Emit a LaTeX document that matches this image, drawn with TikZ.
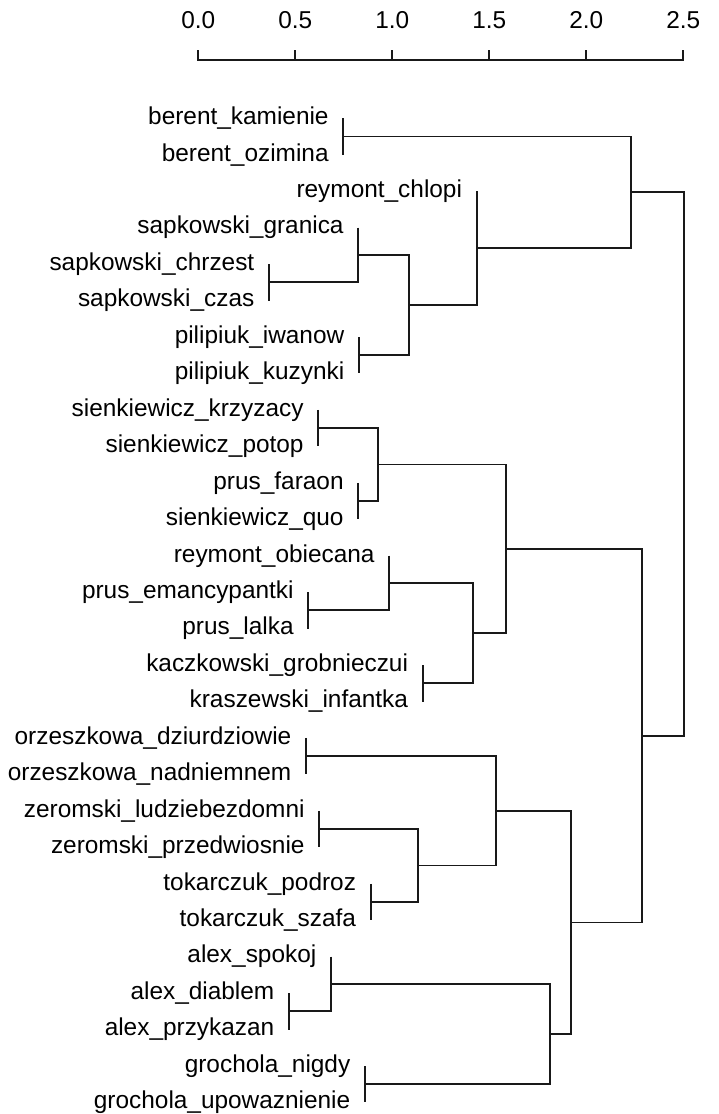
\documentclass[tikz,border=0pt]{standalone}
\usepackage{fontspec}
\setmainfont{Liberation Sans}
\begin{document}
\begin{tikzpicture}[x=1pt,y=-1pt,
  link/.style={line width=1.8pt, draw=black!90},
  leaf/.style={anchor=east, inner sep=0pt, text height=18pt, text depth=5.4pt, font=\fontsize{24.4}{29}\selectfont},
  ticklab/.style={anchor=base, inner sep=0pt, font=\fontsize{24.4}{29}\selectfont}]
\useasboundingbox (0,0) rectangle (719,1114);

% ---------- axis ----------
\coordinate (ax0) at (198.3,60);
\coordinate (ax1) at (295.3,60);
\coordinate (ax2) at (392.3,60);
\coordinate (ax3) at (489.3,60);
\coordinate (ax4) at (586.3,60);
\coordinate (ax5) at (683.3,60);
\coordinate (tk0) at (198.3,50);
\coordinate (tk1) at (295.3,50);
\coordinate (tk2) at (392.3,50);
\coordinate (tk3) at (489.3,50);
\coordinate (tk4) at (586.3,50);
\coordinate (tk5) at (683.3,50);
\draw[link] (tk0) -- (ax0) -- (ax5) -- (tk5);
\draw[link] (tk1) -- (ax1);
\draw[link] (tk2) -- (ax2);
\draw[link] (tk3) -- (ax3);
\draw[link] (tk4) -- (ax4);
\node[ticklab] (t0) at (198.3,28.3) {0.0};
\node[ticklab] (t1) at (295.3,28.3) {0.5};
\node[ticklab] (t2) at (392.3,28.3) {1.0};
\node[ticklab] (t3) at (489.3,28.3) {1.5};
\node[ticklab] (t4) at (586.3,28.3) {2.0};
\node[ticklab] (t5) at (683.3,28.3) {2.5};

% ---------- leaf points ----------
\coordinate (l0) at (343.3,118.30);
\coordinate (l1) at (343.3,154.75);
\coordinate (l2) at (476.7,191.20);
\coordinate (l3) at (358.3,227.65);
\coordinate (l4) at (269.0,264.10);
\coordinate (l5) at (269.0,300.55);
\coordinate (l6) at (359.0,337.00);
\coordinate (l7) at (359.0,373.45);
\coordinate (l8) at (318.3,409.90);
\coordinate (l9) at (318.3,446.35);
\coordinate (l10) at (358.3,482.80);
\coordinate (l11) at (358.3,519.25);
\coordinate (l12) at (389.3,555.70);
\coordinate (l13) at (308.3,592.15);
\coordinate (l14) at (308.3,628.60);
\coordinate (l15) at (422.7,665.05);
\coordinate (l16) at (422.7,701.50);
\coordinate (l17) at (306.0,737.95);
\coordinate (l18) at (306.0,774.40);
\coordinate (l19) at (319.3,810.85);
\coordinate (l20) at (319.3,847.30);
\coordinate (l21) at (370.7,883.75);
\coordinate (l22) at (370.7,920.20);
\coordinate (l23) at (331.0,956.65);
\coordinate (l24) at (289.0,993.10);
\coordinate (l25) at (289.0,1029.55);
\coordinate (l26) at (365.0,1066.00);
\coordinate (l27) at (365.0,1102.45);

% ---------- labels ----------
\node[leaf] (n0) at ([xshift=-14.5pt]l0) {berent\_kamienie};
\node[leaf] (n1) at ([xshift=-14.5pt]l1) {berent\_ozimina};
\node[leaf] (n2) at ([xshift=-14.5pt]l2) {reymont\_chlopi};
\node[leaf] (n3) at ([xshift=-14.5pt]l3) {sapkowski\_granica};
\node[leaf] (n4) at ([xshift=-14.5pt]l4) {sapkowski\_chrzest};
\node[leaf] (n5) at ([xshift=-14.5pt]l5) {sapkowski\_czas};
\node[leaf] (n6) at ([xshift=-14.5pt]l6) {pilipiuk\_iwanow};
\node[leaf] (n7) at ([xshift=-14.5pt]l7) {pilipiuk\_kuzynki};
\node[leaf] (n8) at ([xshift=-14.5pt]l8) {sienkiewicz\_krzyzacy};
\node[leaf] (n9) at ([xshift=-14.5pt]l9) {sienkiewicz\_potop};
\node[leaf] (n10) at ([xshift=-14.5pt]l10) {prus\_faraon};
\node[leaf] (n11) at ([xshift=-14.5pt]l11) {sienkiewicz\_quo};
\node[leaf] (n12) at ([xshift=-14.5pt]l12) {reymont\_obiecana};
\node[leaf] (n13) at ([xshift=-14.5pt]l13) {prus\_emancypantki};
\node[leaf] (n14) at ([xshift=-14.5pt]l14) {prus\_lalka};
\node[leaf] (n15) at ([xshift=-14.5pt]l15) {kaczkowski\_grobnieczui};
\node[leaf] (n16) at ([xshift=-14.5pt]l16) {kraszewski\_infantka};
\node[leaf] (n17) at ([xshift=-14.5pt]l17) {orzeszkowa\_dziurdziowie};
\node[leaf] (n18) at ([xshift=-14.5pt]l18) {orzeszkowa\_nadniemnem};
\node[leaf] (n19) at ([xshift=-14.5pt]l19) {zeromski\_ludziebezdomni};
\node[leaf] (n20) at ([xshift=-14.5pt]l20) {zeromski\_przedwiosnie};
\node[leaf] (n21) at ([xshift=-14.5pt]l21) {tokarczuk\_podroz};
\node[leaf] (n22) at ([xshift=-14.5pt]l22) {tokarczuk\_szafa};
\node[leaf] (n23) at ([xshift=-14.5pt]l23) {alex\_spokoj};
\node[leaf] (n24) at ([xshift=-14.5pt]l24) {alex\_diablem};
\node[leaf] (n25) at ([xshift=-14.5pt]l25) {alex\_przykazan};
\node[leaf] (n26) at ([xshift=-14.5pt]l26) {grochola\_nigdy};
\node[leaf] (n27) at ([xshift=-14.5pt]l27) {grochola\_upowaznienie};

% ---------- merge points ----------
\coordinate (mA) at (343.3,136.525);
\coordinate (mD) at (269.0,282.325);
\coordinate (mE) at (358.3,254.99);
\coordinate (mF) at (359.0,355.225);
\coordinate (mG) at (409.3,305.11);
\coordinate (mC) at (476.7,248.15);
\coordinate (mB) at (630.7,192.34);
\coordinate (mH) at (318.3,428.125);
\coordinate (mI) at (358.3,501.025);
\coordinate (mJ) at (378.3,464.575);
\coordinate (mK) at (308.3,610.375);
\coordinate (mL) at (389.3,583.04);
\coordinate (mM) at (422.7,683.275);
\coordinate (mN) at (472.7,633.16);
\coordinate (mO) at (506.0,548.87);
\coordinate (mP) at (306.0,756.175);
\coordinate (mQ) at (319.3,829.075);
\coordinate (mR) at (370.7,901.975);
\coordinate (mS) at (418.3,865.525);
\coordinate (mW) at (495.7,810.85);
\coordinate (mT) at (289.0,1011.325);
\coordinate (mU) at (331.0,983.99);
\coordinate (mV) at (365.0,1084.225);
\coordinate (mX) at (550.0,1034.11);
\coordinate (mY) at (570.7,922.48);
\coordinate (mZ) at (641.7,735.675);
\coordinate (root) at (684.0,464.0);

% ---------- links ----------
\draw[link] (l0) -| (mA) |- (l1);
\draw[link] (l4) -| (mD) |- (l5);
\draw[link] (l3) -| (mE) |- (mD);
\draw[link] (l6) -| (mF) |- (l7);
\draw[link] (mE) -| (mG) |- (mF);
\draw[link] (l2) -| (mC) |- (mG);
\draw[link] (mA) -| (mB) |- (mC);
\draw[link] (l8) -| (mH) |- (l9);
\draw[link] (l10) -| (mI) |- (l11);
\draw[link] (mH) -| (mJ) |- (mI);
\draw[link] (l13) -| (mK) |- (l14);
\draw[link] (l12) -| (mL) |- (mK);
\draw[link] (l15) -| (mM) |- (l16);
\draw[link] (mL) -| (mN) |- (mM);
\draw[link] (mJ) -| (mO) |- (mN);
\draw[link] (l17) -| (mP) |- (l18);
\draw[link] (l19) -| (mQ) |- (l20);
\draw[link] (l21) -| (mR) |- (l22);
\draw[link] (mQ) -| (mS) |- (mR);
\draw[link] (mP) -| (mW) |- (mS);
\draw[link] (l24) -| (mT) |- (l25);
\draw[link] (l23) -| (mU) |- (mT);
\draw[link] (l26) -| (mV) |- (l27);
\draw[link] (mU) -| (mX) |- (mV);
\draw[link] (mW) -| (mY) |- (mX);
\draw[link] (mO) -| (mZ) |- (mY);
\draw[link] (mB) -| (root) |- (mZ);
\end{tikzpicture}
\end{document}
